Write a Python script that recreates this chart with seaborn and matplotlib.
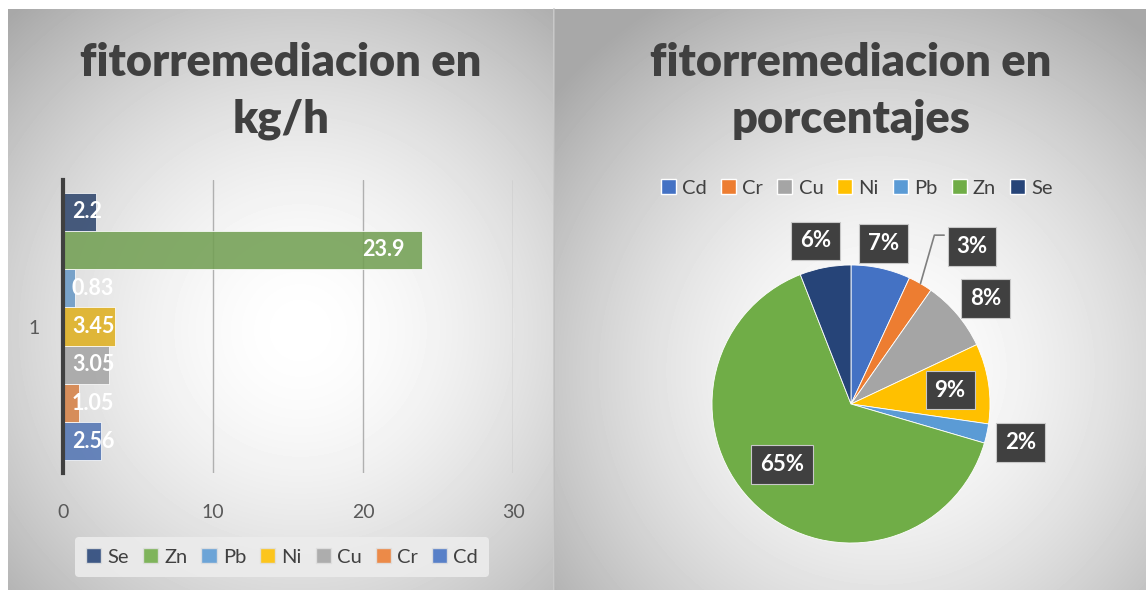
import numpy as np
import pandas as pd
import matplotlib
matplotlib.use("Agg")
import matplotlib.pyplot as plt
import seaborn as sns
from matplotlib.patches import Patch

# ---------------- data ----------------
metals = ["Cd", "Cr", "Cu", "Ni", "Pb", "Zn", "Se"]
values = [2.56, 1.05, 3.05, 3.45, 0.83, 23.9, 2.2]
colors = ["#4472C4", "#ED7D31", "#A5A5A5", "#FFC000", "#5B9BD5", "#70AD47", "#264478"]
bar_order = ["Se", "Zn", "Pb", "Ni", "Cu", "Cr", "Cd"]
x_ticks = [0, 10, 20, 30]
category_label = "1"
title_left = "fitorremediacion en\nkg/h"
title_right = "fitorremediacion en\nporcentajes"

sns.set_theme(style="white")
plt.rcParams["font.family"] = ["Lato", "DejaVu Sans"]

W, H = 1146, 590
fig = plt.figure(figsize=(W / 100, H / 100), dpi=100)
fig.patch.set_facecolor("white")

def fx(px):
    return px / W

def fy(py):
    return 1 - py / H

# ---------------- panel backgrounds (radial gradients) ----------------
def panel(x0, y0, x1, y1, cx, cy):
    ax = fig.add_axes([fx(x0), fy(y1), fx(x1 - x0), (y1 - y0) / H], zorder=-10)
    nx, ny = int(x1 - x0), int(y1 - y0)
    xx, yy = np.meshgrid(np.arange(nx) + x0, np.arange(ny) + y0)
    d = np.sqrt(((xx - cx) / 330.0) ** 2 + ((yy - cy) / 330.0) ** 2)
    img = 1.0 - 0.22 * np.clip(d, 0, 1.3) ** 1.7
    ax.imshow(img, cmap="gray", vmin=0, vmax=1, aspect="auto",
              extent=[0, 1, 0, 1], interpolation="bilinear")
    ax.set_axis_off()
    return ax

panel(8, 9, 553, 590, 300, 330)
panel(554, 9, 1146, 590, 880, 370)
fig.add_artist(plt.Line2D([fx(553.5)] * 2, [0, fy(9)], color="#bdbdbd", lw=1.2))

# ---------------- left: horizontal bars ----------------
df = pd.DataFrame({"metal": metals, "value": values})
pal = dict(zip(metals, colors))
axb = fig.add_axes([fx(63), fy(473), fx(513 - 63), (473 - 180) / H])
axb.set_facecolor("none")
sns.barplot(data=df, y="metal", x="value", hue="metal", order=bar_order,
            palette=pal, orient="h", width=1.0, alpha=0.88, legend=False,
            edgecolor="white", linewidth=0.6, ax=axb)
axb.set_xlim(0, 30)
axb.set_ylim(6.83, -0.83)
axb.set_xticks(x_ticks)
axb.set_xticklabels([str(t) for t in x_ticks], color="#595959", fontsize=14)
axb.set_yticks([3])
axb.set_yticklabels([category_label], color="#595959", fontsize=14)
axb.tick_params(axis="x", length=0, pad=22)
axb.tick_params(axis="y", length=0, pad=17)
axb.set_xlabel("")
axb.set_ylabel("")
for s in ["top", "right", "bottom"]:
    axb.spines[s].set_visible(False)
axb.spines["left"].set_color("#404040")
axb.spines["left"].set_linewidth(3)
for t in x_ticks[1:]:
    axb.axvline(t, color="#b0b0b0", lw=1, zorder=0)
for i, m in enumerate(bar_order):
    v = values[metals.index(m)]
    if v > 6:
        axb.text(v - 1.1, i, f"{v:g}", ha="right", va="center", color="white",
                 fontsize=15.5, fontweight="bold")
    else:
        axb.text(0.6, i, f"{v:g}", ha="left", va="center", color="white",
                 fontsize=15.5, fontweight="bold")

fig.text(fx(281), fy(91), title_left, ha="center", va="center", color="#404040",
         fontsize=32.5, fontweight="heavy", linespacing=1.45)

handles_b = [Patch(facecolor=pal[m], alpha=0.88, edgecolor="#e0e0e0") for m in bar_order]
leg = fig.legend(handles_b, bar_order, loc="center", bbox_to_anchor=(fx(282), fy(557)),
                 ncol=7, frameon=True, fontsize=14.5, handlelength=0.75, handleheight=0.75,
                 handletextpad=0.3, columnspacing=0.7, borderpad=0.55)
leg.get_frame().set_facecolor("#ececec")
leg.get_frame().set_edgecolor("none")
leg.get_frame().set_alpha(0.9)
for t in leg.get_texts():
    t.set_color("#404040")

# ---------------- right: pie ----------------
R = 139
axp = fig.add_axes([fx(851 - R), fy(404 + R), fx(2 * R), 2 * R / H])
axp.set_facecolor("none")
wedges, _ = axp.pie(values, colors=colors, startangle=90, counterclock=False,
                    wedgeprops=dict(linewidth=0.6, edgecolor="white"), radius=1.0)
axp.set_xlim(-1, 1)
axp.set_ylim(-1, 1)
axp.set_aspect("equal")
axp.set_axis_off()

total = sum(values)
pcts = [v / total * 100 for v in values]
label_r = [1.18, 1.43, 1.23, 0.72, 1.25, 0.66, 1.20]
label_da = [1, -7.5, -2, -0.5, -0.5, -6, 1.5]
ang = 90.0
for i, (p, w) in enumerate(zip(pcts, wedges)):
    a0 = ang
    a1 = ang - p * 3.6
    mid = (a0 + a1) / 2
    ang = a1
    th = np.deg2rad(mid + label_da[i])
    x, y = label_r[i] * np.cos(th), label_r[i] * np.sin(th)
    axp.text(x, y, f"{p:.0f}%", ha="center", va="center", color="white",
             fontsize=16, fontweight="bold", clip_on=False, zorder=4,
             bbox=dict(boxstyle="square,pad=0.4", facecolor="#404040",
                       edgecolor="#c8c8c8", linewidth=0.8))
    if label_r[i] > 1.35:
        tm = np.deg2rad(mid)
        xe, ye = np.cos(tm), np.sin(tm)
        axp.plot([xe, xe + 0.1, x - 0.2], [ye, y + 0.08, y + 0.08],
                 color="#7f7f7f", lw=1.2, clip_on=False)

fig.text(fx(851), fy(91), title_right, ha="center", va="center", color="#404040",
         fontsize=32.5, fontweight="heavy", linespacing=1.45)

handles_p = [Patch(facecolor=c) for c in colors]
leg2 = fig.legend(handles_p, metals, loc="center", bbox_to_anchor=(fx(857), fy(188)),
                  ncol=7, frameon=False, fontsize=14.5, handlelength=0.75, handleheight=0.75,
                  handletextpad=0.3, columnspacing=0.7)
for t in leg2.get_texts():
    t.set_color("#404040")

fig.savefig("out.png", dpi=100, facecolor="white")
